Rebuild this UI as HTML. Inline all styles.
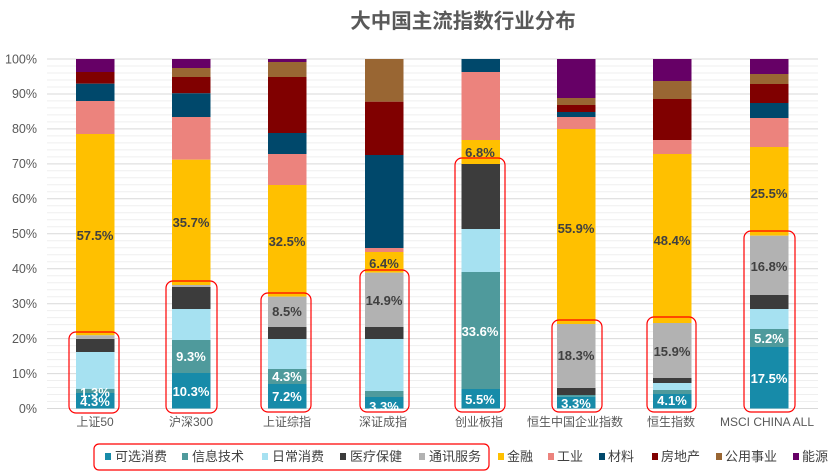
<!DOCTYPE html>
<html><head><meta charset="utf-8"><style>
body{margin:0;background:#fff;}
svg{display:block;font-family:"Liberation Sans","Noto Sans CJK SC",sans-serif;}
.d{font-size:13px;font-weight:bold;fill:#404040;text-anchor:middle}
.w{font-size:13px;font-weight:bold;fill:#fff;text-anchor:middle}
.x{font-size:12px;fill:#595959;text-anchor:middle}
.y{font-size:12.5px;fill:#595959;text-anchor:end}
.lg{font-size:13px;fill:#404040}
.rb{fill:none;stroke:#ff0000;stroke-width:1.2}
</style></head><body>
<svg width="833" height="474" viewBox="0 0 833 474" xmlns="http://www.w3.org/2000/svg">
<rect width="833" height="474" fill="#fff"/>
<text x="463" y="28" text-anchor="middle" font-size="20.5" font-weight="bold" fill="#595959">大中国主流指数行业分布</text>
<path stroke="#efefef" stroke-width="1" fill="none" d="M47 401.5H818M47 394.5H818M47 387.5H818M47 380.5H818M47 366.6H818M47 359.6H818M47 352.6H818M47 345.6H818M47 331.6H818M47 324.6H818M47 317.6H818M47 310.6H818M47 296.7H818M47 289.7H818M47 282.7H818M47 275.7H818M47 261.7H818M47 254.7H818M47 247.7H818M47 240.7H818M47 226.8H818M47 219.8H818M47 212.8H818M47 205.8H818M47 191.8H818M47 184.8H818M47 177.8H818M47 170.8H818M47 156.9H818M47 149.9H818M47 142.9H818M47 135.9H818M47 121.9H818M47 114.9H818M47 107.9H818M47 100.9H818M47 87H818M47 80H818M47 73H818M47 66H818"/>
<path stroke="#d9d9d9" stroke-width="1" fill="none" d="M47 408.5H818M47 373.6H818M47 338.6H818M47 303.7H818M47 268.7H818M47 233.8H818M47 198.8H818M47 163.9H818M47 128.9H818M47 94H818M47 59H818"/>
<text class="y" x="37" y="413">0%</text><text class="y" x="37" y="378">10%</text><text class="y" x="37" y="343">20%</text><text class="y" x="37" y="308">30%</text><text class="y" x="37" y="273">40%</text><text class="y" x="37" y="238">50%</text><text class="y" x="37" y="203">60%</text><text class="y" x="37" y="168">70%</text><text class="y" x="37" y="133">80%</text><text class="y" x="37" y="98">90%</text><text class="y" x="37" y="63.5">100%</text>
<!-- bar1 -->
<rect x="76" y="59" width="38.5" height="13" fill="#660066"/><rect x="76" y="72" width="38.5" height="11.7" fill="#800000"/><rect x="76" y="83.7" width="38.5" height="17.3" fill="#00486b"/><rect x="76" y="101" width="38.5" height="33" fill="#ec837d"/><rect x="76" y="134" width="38.5" height="201.3" fill="#ffc000"/><rect x="76" y="335.3" width="38.5" height="3.7" fill="#b2b2b2"/><rect x="76" y="339" width="38.5" height="13" fill="#3c3c3c"/><rect x="76" y="352" width="38.5" height="37" fill="#a6e1f1"/><rect x="76" y="389" width="38.5" height="4" fill="#4f9a9c"/><rect x="76" y="393" width="38.5" height="15.5" fill="#178ba9"/>
<!-- bar2 -->
<rect x="172" y="59" width="38.5" height="9" fill="#660066"/><rect x="172" y="68" width="38.5" height="9" fill="#996633"/><rect x="172" y="77" width="38.5" height="16.3" fill="#800000"/><rect x="172" y="93.3" width="38.5" height="23.7" fill="#00486b"/><rect x="172" y="117" width="38.5" height="42.7" fill="#ec837d"/><rect x="172" y="159.7" width="38.5" height="125.3" fill="#ffc000"/><rect x="172" y="285" width="38.5" height="2" fill="#b2b2b2"/><rect x="172" y="287" width="38.5" height="22" fill="#3c3c3c"/><rect x="172" y="309" width="38.5" height="31" fill="#a6e1f1"/><rect x="172" y="340" width="38.5" height="33" fill="#4f9a9c"/><rect x="172" y="373" width="38.5" height="35.5" fill="#178ba9"/>
<!-- bar3 -->
<rect x="268" y="59" width="38.5" height="3" fill="#660066"/><rect x="268" y="62" width="38.5" height="15" fill="#996633"/><rect x="268" y="77" width="38.5" height="56" fill="#800000"/><rect x="268" y="133" width="38.5" height="21" fill="#00486b"/><rect x="268" y="154" width="38.5" height="31" fill="#ec837d"/><rect x="268" y="185" width="38.5" height="111.7" fill="#ffc000"/><rect x="268" y="296.7" width="38.5" height="30.3" fill="#b2b2b2"/><rect x="268" y="327" width="38.5" height="12" fill="#3c3c3c"/><rect x="268" y="339" width="38.5" height="30" fill="#a6e1f1"/><rect x="268" y="369" width="38.5" height="15" fill="#4f9a9c"/><rect x="268" y="384" width="38.5" height="24.5" fill="#178ba9"/>
<!-- bar4 -->
<rect x="365" y="59" width="38.5" height="42.7" fill="#996633"/><rect x="365" y="101.7" width="38.5" height="53.3" fill="#800000"/><rect x="365" y="155" width="38.5" height="93" fill="#00486b"/><rect x="365" y="248" width="38.5" height="4" fill="#ec837d"/><rect x="365" y="252" width="38.5" height="20.7" fill="#ffc000"/><rect x="365" y="272.7" width="38.5" height="54.3" fill="#b2b2b2"/><rect x="365" y="327" width="38.5" height="12" fill="#3c3c3c"/><rect x="365" y="339" width="38.5" height="52" fill="#a6e1f1"/><rect x="365" y="391" width="38.5" height="6" fill="#4f9a9c"/><rect x="365" y="397" width="38.5" height="11.5" fill="#178ba9"/>
<!-- bar5 -->
<rect x="461.5" y="59" width="38.5" height="13" fill="#00486b"/><rect x="461.5" y="72" width="38.5" height="68" fill="#ec837d"/><rect x="461.5" y="140" width="38.5" height="24" fill="#ffc000"/><rect x="461.5" y="164" width="38.5" height="65" fill="#3c3c3c"/><rect x="461.5" y="229" width="38.5" height="43" fill="#a6e1f1"/><rect x="461.5" y="272" width="38.5" height="117" fill="#4f9a9c"/><rect x="461.5" y="389" width="38.5" height="19.5" fill="#178ba9"/>
<!-- bar6 -->
<rect x="557" y="59" width="38.5" height="39" fill="#660066"/><rect x="557" y="98" width="38.5" height="7" fill="#996633"/><rect x="557" y="105" width="38.5" height="7" fill="#800000"/><rect x="557" y="112" width="38.5" height="5" fill="#00486b"/><rect x="557" y="117" width="38.5" height="12" fill="#ec837d"/><rect x="557" y="129" width="38.5" height="195" fill="#ffc000"/><rect x="557" y="324" width="38.5" height="64" fill="#b2b2b2"/><rect x="557" y="388" width="38.5" height="7" fill="#3c3c3c"/><rect x="557" y="395" width="38.5" height="1.7" fill="#4f9a9c"/><rect x="557" y="396.7" width="38.5" height="11.8" fill="#178ba9"/>
<!-- bar7 -->
<rect x="653" y="59" width="38.5" height="22" fill="#660066"/><rect x="653" y="81" width="38.5" height="18" fill="#996633"/><rect x="653" y="99" width="38.5" height="41" fill="#800000"/><rect x="653" y="140" width="38.5" height="14" fill="#ec837d"/><rect x="653" y="154" width="38.5" height="169" fill="#ffc000"/><rect x="653" y="323" width="38.5" height="55" fill="#b2b2b2"/><rect x="653" y="378" width="38.5" height="5" fill="#3c3c3c"/><rect x="653" y="383" width="38.5" height="7" fill="#a6e1f1"/><rect x="653" y="390" width="38.5" height="4" fill="#4f9a9c"/><rect x="653" y="394" width="38.5" height="14.5" fill="#178ba9"/>
<!-- bar8 -->
<rect x="750" y="59" width="38.5" height="15" fill="#660066"/><rect x="750" y="74" width="38.5" height="10" fill="#996633"/><rect x="750" y="84" width="38.5" height="19" fill="#800000"/><rect x="750" y="103" width="38.5" height="15" fill="#00486b"/><rect x="750" y="118" width="38.5" height="29" fill="#ec837d"/><rect x="750" y="147" width="38.5" height="88.7" fill="#ffc000"/><rect x="750" y="235.7" width="38.5" height="59.3" fill="#b2b2b2"/><rect x="750" y="295" width="38.5" height="14" fill="#3c3c3c"/><rect x="750" y="309" width="38.5" height="20" fill="#a6e1f1"/><rect x="750" y="329" width="38.5" height="18" fill="#4f9a9c"/><rect x="750" y="347" width="38.5" height="61.5" fill="#178ba9"/>
<!-- labels -->
<text class="d" x="95" y="240">57.5%</text><text class="w" x="95" y="397">1.3%</text><text class="w" x="95" y="406">4.3%</text>
<text class="d" x="191" y="227">35.7%</text><text class="w" x="191" y="361">9.3%</text><text class="w" x="191" y="396">10.3%</text>
<text class="d" x="287" y="246">32.5%</text><text class="d" x="287" y="316">8.5%</text><text class="w" x="287" y="381">4.3%</text><text class="w" x="287" y="401">7.2%</text>
<text class="d" x="384" y="268">6.4%</text><text class="d" x="384" y="305">14.9%</text><text class="w" x="384" y="411">3.3%</text>
<text class="d" x="480" y="157">6.8%</text><text class="w" x="480" y="336">33.6%</text><text class="w" x="480" y="404">5.5%</text>
<text class="d" x="576" y="233">55.9%</text><text class="d" x="576" y="360">18.3%</text><text class="w" x="576" y="408">3.3%</text>
<text class="d" x="672" y="245">48.4%</text><text class="d" x="672" y="356">15.9%</text><text class="w" x="672" y="405">4.1%</text>
<text class="d" x="769" y="198">25.5%</text><text class="d" x="769" y="271">16.8%</text><text class="w" x="769" y="343">5.2%</text><text class="w" x="769" y="383">17.5%</text>
<!-- red boxes -->
<rect class="rb" x="69" y="332" width="50" height="81" rx="7"/><rect class="rb" x="166" y="281" width="51" height="132" rx="7"/><rect class="rb" x="261" y="293" width="50" height="119" rx="7"/><rect class="rb" x="360" y="270" width="49" height="142" rx="7"/><rect class="rb" x="455" y="158" width="50" height="254" rx="7"/><rect class="rb" x="552" y="320" width="50" height="92" rx="7"/><rect class="rb" x="647" y="317" width="49" height="95" rx="7"/><rect class="rb" x="744" y="231" width="51" height="181" rx="7"/>
<!-- x labels -->
<text class="x" x="95" y="426">上证50</text><text class="x" x="191" y="426">沪深300</text><text class="x" x="287" y="426">上证综指</text><text class="x" x="383" y="426">深证成指</text><text class="x" x="479" y="426">创业板指</text><text class="x" x="575" y="426">恒生中国企业指数</text><text class="x" x="671" y="426">恒生指数</text><text class="x" x="767" y="426">MSCI CHINA ALL</text>
<!-- legend -->
<rect class="rb" x="94" y="444" width="395" height="26" rx="5"/>
<rect x="105" y="453" width="6" height="7" fill="#178ba9"/><text class="lg" x="115" y="461">可选消费</text>
<rect x="182" y="453" width="6" height="7" fill="#4f9a9c"/><text class="lg" x="192" y="461">信息技术</text>
<rect x="262" y="453" width="6" height="7" fill="#a6e1f1"/><text class="lg" x="272" y="461">日常消费</text>
<rect x="340" y="453" width="6" height="7" fill="#3c3c3c"/><text class="lg" x="350" y="461">医疗保健</text>
<rect x="419" y="453" width="6" height="7" fill="#b2b2b2"/><text class="lg" x="429" y="461">通讯服务</text>
<rect x="498" y="453" width="6" height="7" fill="#ffc000"/><text class="lg" x="507" y="461">金融</text>
<rect x="548" y="453" width="6" height="7" fill="#ec837d"/><text class="lg" x="557" y="461">工业</text>
<rect x="599" y="453" width="6" height="7" fill="#00486b"/><text class="lg" x="608" y="461">材料</text>
<rect x="652" y="453" width="6" height="7" fill="#800000"/><text class="lg" x="661" y="461">房地产</text>
<rect x="716" y="453" width="6" height="7" fill="#996633"/><text class="lg" x="725" y="461">公用事业</text>
<rect x="793" y="453" width="6" height="7" fill="#660066"/><text class="lg" x="802" y="461">能源</text>
</svg>
</body></html>
